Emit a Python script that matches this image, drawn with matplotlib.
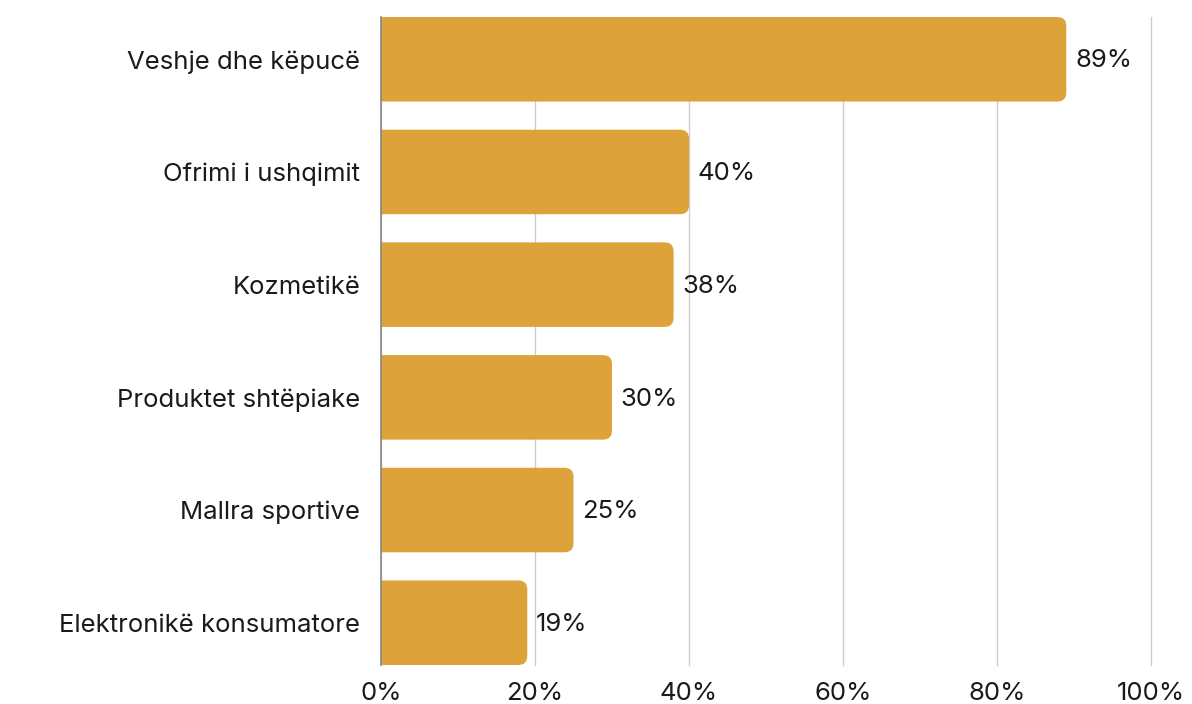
import matplotlib
matplotlib.use('Agg')
import matplotlib.pyplot as plt
from matplotlib.patches import FancyBboxPatch

categories = ['Veshje dhe këpucë', 'Ofrimi i ushqimit', 'Kozmetikë',
              'Produktet shtëpiake', 'Mallra sportive', 'Elektronikë konsumatore']
values = [89, 40, 38, 30, 25, 19]
ticks = [0, 20, 40, 60, 80, 100]
tick_labels = ['0%', '20%', '40%', '60%', '80%', '100%']

BAR_COLOR = '#DDA33A'
TEXT_COLOR = '#1a1a1a'
FS = 18.5

plt.rcParams['font.family'] = ['Inter', 'DejaVu Sans']

fig = plt.figure(figsize=(11.92, 7.04), dpi=100)
left, right, bottom, top = 381 / 1192, 1151 / 1192, 39 / 704, 687 / 704
ax = fig.add_axes([left, bottom, right - left, top - bottom])

n = len(categories)
h = 0.75
ax.set_xlim(0, 100)
ax.set_ylim(n - 1 + h / 2, -h / 2)

# rounded right corners: box starts left of 0, clipped by the axes
ax_w_px = (right - left) * 1192
ax_h_px = (top - bottom) * 704
x_per_px = 100 / ax_w_px
y_per_px = (n - 1 + h) / ax_h_px
r_px = 9
rs = r_px * x_per_px
aspect = y_per_px / x_per_px

for i, v in enumerate(values):
    p = FancyBboxPatch((-3 * rs, i - h / 2), v + 3 * rs, h,
                       boxstyle='round,pad=0,rounding_size=%f' % rs,
                       mutation_aspect=aspect, facecolor=BAR_COLOR,
                       edgecolor='none', zorder=3)
    ax.add_patch(p)
    ax.text(v + 1.15, i + 0.015, '%d%%' % v, va='center', ha='left',
            fontsize=FS, color=TEXT_COLOR, zorder=4)

ax.set_yticks(range(n))
ax.set_yticklabels(categories, fontsize=FS, color=TEXT_COLOR)
ax.set_xticks(ticks)
ax.set_xticklabels(tick_labels, fontsize=FS, color=TEXT_COLOR)
ax.tick_params(axis='both', length=0)
ax.tick_params(axis='y', pad=15)
ax.tick_params(axis='x', pad=12)

ax.grid(axis='x', color='#cccccc', linewidth=1, zorder=0)
for gl in ax.get_xgridlines():
    gl.set_clip_on(False)
for s in ['top', 'right', 'bottom']:
    ax.spines[s].set_visible(False)
ax.spines['left'].set_color('#888888')
ax.spines['left'].set_linewidth(1.2)
ax.spines['left'].set_zorder(5)

fig.savefig('out.png', dpi=100)
